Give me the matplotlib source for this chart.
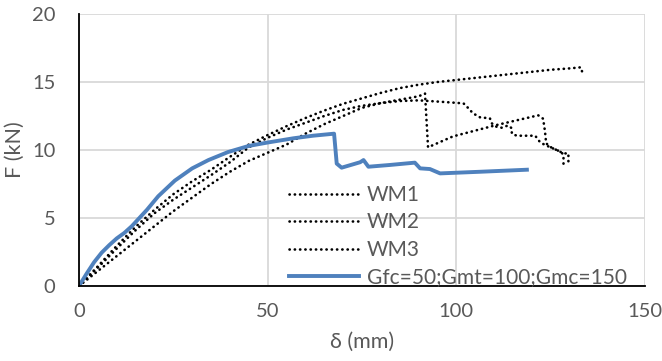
import matplotlib
matplotlib.use("Agg")
import matplotlib.pyplot as plt

# ---- data ----
wm1_x = [0, 5, 10, 15, 20, 25, 30, 35, 40, 45, 50, 55, 60, 65, 70, 75, 80, 85, 90, 95,
         100, 105, 110, 115, 120, 125, 130, 133, 133.5]
wm1_y = [0, 1.45, 2.95, 4.35, 5.6, 6.75, 7.7, 8.55, 9.5, 10.4, 11.1, 11.75, 12.35, 12.9, 13.4,
         13.8, 14.2, 14.55, 14.8, 15.0, 15.15, 15.3, 15.45, 15.6, 15.75, 15.9, 16.0, 16.08, 15.6]

wm2_x = [0, 5, 10, 15, 20, 25, 30, 35, 40, 45, 50, 55, 60, 65, 70, 75, 80, 85, 90, 91.7,
         92.5, 99.1, 110.7, 121.7, 123.0, 123.5, 123.8, 124.8, 128.4, 129.7, 129.7]
wm2_y = [0, 1.1, 2.2, 3.3, 4.4, 5.5, 6.5, 7.5, 8.4, 9.2, 9.8, 10.4, 11.2, 11.9, 12.5, 13.1,
         13.45, 13.7, 13.95, 14.15, 10.2, 11.0, 11.84, 12.55, 12.3, 11.35, 10.5, 10.24, 9.75,
         9.75, 9.0]

wm3_x = [0, 5, 10, 15, 20, 25, 30, 35, 40, 45, 50, 55, 60, 65, 70, 75, 80, 85, 90, 95.7,
         101.9, 103.2, 104.4, 106.3, 108.9, 109.4, 110.7, 112.0, 113.7, 114.7, 114.7, 116.0,
         120.9, 122.2, 123.5, 126.6, 127.9, 128.4, 128.4]
wm3_y = [0, 1.35, 2.75, 4.1, 5.35, 6.35, 7.25, 8.15, 9.1, 10.2, 10.9, 11.5, 12.0, 12.5, 12.95,
         13.25, 13.45, 13.6, 13.65, 13.55, 13.43, 13.07, 12.7, 12.4, 12.33, 11.96, 11.7, 11.64,
         11.8, 11.6, 11.2, 11.05, 11.05, 10.57, 10.37, 10.0, 9.83, 9.6, 8.65]

sim_x = [0, 2, 4, 6, 8, 10, 12, 14, 16, 18, 21, 25.4, 30, 34.3, 39.5, 45, 50, 56.8, 62, 67.6,
         68.3, 69.6, 74.5, 75.4, 76.7, 82.4, 89, 90.4, 93, 95.7, 106.3, 118.7]
sim_y = [0, 0.9, 1.75, 2.45, 3.0, 3.5, 3.9, 4.4, 5.0, 5.6, 6.6, 7.75, 8.65, 9.26, 9.85, 10.3,
         10.55, 10.86, 11.05, 11.2, 9.0, 8.7, 9.1, 9.26, 8.77, 8.9, 9.07, 8.65, 8.6, 8.28, 8.4,
         8.55]

labels = ["WM1", "WM2", "WM3", "Gfc=50;Gmt=100;Gmc=150"]
x_ticks = [0, 50, 100, 150]
y_ticks = [0, 5, 10, 15, 20]

plt.rcParams['font.family'] = ['Lato', 'DejaVu Sans']
gray_txt = '#595959'

fig = plt.figure(figsize=(6.62, 3.61), dpi=100)
ax = fig.add_axes([79/662, 1-286/361, (645-79)/662, (286-14)/361])

dot = dict(color='black', lw=1.9, linestyle=(0, (0.1, 1.9)), dash_capstyle='round')
ax.plot(wm1_x, wm1_y, label=labels[0], **dot)
ax.plot(wm2_x, wm2_y, label=labels[1], **dot)
ax.plot(wm3_x, wm3_y, label=labels[2], **dot)
ax.plot(sim_x, sim_y, label=labels[3], color='#4F81BD', lw=2.8, solid_joinstyle='round')

ax.set_xlim(0, 150)
ax.set_ylim(0, 20)
ax.set_xticks(x_ticks)
ax.set_yticks(y_ticks)
ax.grid(True, color='#D9D9D9', lw=1.3)
ax.set_axisbelow(True)
for s in ['top', 'right']:
    ax.spines[s].set_visible(False)
for s in ['left', 'bottom']:
    ax.spines[s].set_color('black')
    ax.spines[s].set_linewidth(1.3)
    ax.spines[s].set_zorder(3)
ax.tick_params(axis='both', length=0, labelsize=14.5, labelcolor=gray_txt)
ax.tick_params(axis='x', pad=12)
ax.tick_params(axis='y', pad=17)

ax.set_xlabel('δ (mm)', fontsize=15.5, color=gray_txt, labelpad=9)
ax.set_ylabel('F (kN)', fontsize=15.5, color=gray_txt, labelpad=5)

leg = ax.legend(loc='upper left', bbox_to_anchor=(289/662, 1-185/361),
                bbox_transform=fig.transFigure, frameon=False, fontsize=15,
                handlelength=3.37, handletextpad=0.35, labelspacing=0.36,
                borderpad=0, borderaxespad=0)
for t in leg.get_texts():
    t.set_color(gray_txt)

fig.savefig('out.png', dpi=100)
